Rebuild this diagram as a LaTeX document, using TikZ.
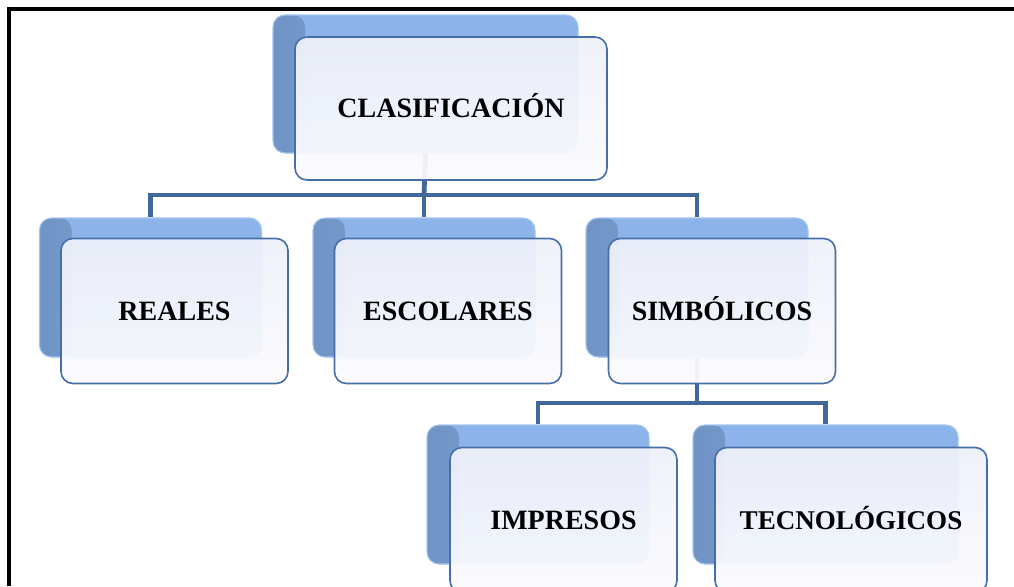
\documentclass[tikz,border=0pt]{standalone}
\usepackage{fontspec}
\setmainfont{Liberation Serif}
\usetikzlibrary{positioning}

\definecolor{linkblue}{RGB}{65,104,154}
\definecolor{edgeblue}{RGB}{70,110,168}
\definecolor{shadeL}{RGB}{112,147,197}
\definecolor{shadeR}{RGB}{141,180,234}
\definecolor{paleT}{RGB}{238,240,249}
\definecolor{paleB}{RGB}{251,251,254}

\begin{document}
\begin{tikzpicture}[x=0.75pt, y=-0.75pt,
  backbox/.style={rounded corners=9pt, inner sep=0pt,
    fill=shadeR, draw=shadeR!80!white, line width=0.8pt,
    path picture={\fill[left color=shadeL, right color=shadeR]
      (path picture bounding box.south west) rectangle
      ([xshift=24pt]path picture bounding box.north west);},
    minimum width=166.5pt, minimum height=104.25pt},
  frontbox/.style={rounded corners=9pt, inner sep=0pt, draw=edgeblue, line width=1.2pt,
    top color=paleT, bottom color=paleB, fill opacity=0.94, text opacity=1,
    minimum width=170.25pt, minimum height=108.75pt,
    text height=14pt, text depth=0pt,
    font=\fontsize{21}{24}\selectfont\bfseries},
  link/.style={draw=linkblue, line width=3.6pt}]

  \useasboundingbox (0,0) rectangle (1014,586);
  \draw[black, line width=2.6pt] (9,586) -- (9,9) -- (1014,9);

  % back boxes
  \node [backbox, minimum width=228.75pt, minimum height=103.5pt] (clasB) at (425.5,84) {};
  \node [backbox] (realB) at (150.5,287.5) {};
  \node [backbox] (escoB) at (424,287.5) {};
  \node [backbox] (simbB) at (697,287.5) {};
  \node [backbox] (imprB) at (538,494.5) {};
  \node [backbox, minimum width=198.75pt] (tecnB) at (825.5,494.5) {};

  % connectors
  \coordinate (busA) at (424,195);
  \coordinate (busB) at (697,403);
  \draw [link] (clasB.south) -- (busA);
  \draw [link] (busA) -| (realB.north);
  \draw [link] (busA) -| (simbB.north);
  \draw [link] (busA) -- (escoB.north);
  \draw [link] (simbB.south) -- (busB);
  \draw [link] (busB) -| (imprB.north);
  \draw [link] (busB) -| (tecnB.north);

  % front boxes
  \node [frontbox, minimum width=234pt, minimum height=107.25pt] (clas) at (451,108.5) {CLASIFICACIÓN};
  \node [frontbox] (real) at (174.5,311) {REALES};
  \node [frontbox] (esco) at (448,311) {ESCOLARES};
  \node [frontbox] (simb) at (722,311) {SIMBÓLICOS};
  \node [frontbox] (impr) at (563.5,520) {IMPRESOS};
  \node [frontbox, minimum width=204pt, font=\fontsize{20.3}{24}\selectfont\bfseries] (tecn) at (851,520) {TECNOLÓGICOS};
\end{tikzpicture}
\end{document}
